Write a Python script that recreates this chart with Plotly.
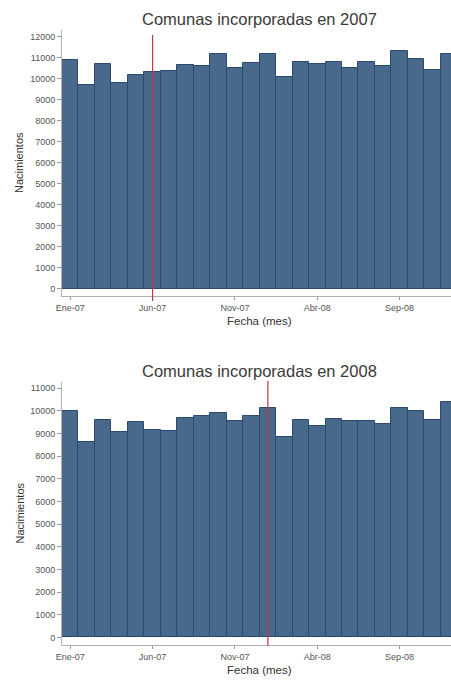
import plotly.graph_objects as go

# Monthly births, Jan 2007 - Dec 2008
meses = ["Ene-07", "Feb-07", "Mar-07", "Abr-07", "May-07", "Jun-07",
         "Jul-07", "Ago-07", "Sep-07", "Oct-07", "Nov-07", "Dic-07",
         "Ene-08", "Feb-08", "Mar-08", "Abr-08", "May-08", "Jun-08",
         "Jul-08", "Ago-08", "Sep-08", "Oct-08", "Nov-08", "Dic-08"]

nac_2007 = [10890, 9730, 10730, 9820, 10200, 10330, 10390, 10680, 10620, 11200,
            10530, 10740, 11190, 10080, 10800, 10730, 10820, 10520, 10790, 10600,
            11340, 10960, 10430, 11200]

nac_2008 = [9980, 8620, 9590, 9050, 9520, 9150, 9110, 9660, 9790, 9900,
            9560, 9780, 10140, 8840, 9590, 9350, 9620, 9560, 9570, 9430,
            10140, 9970, 9590, 10380]

titulos = ["Comunas incorporadas en 2007", "Comunas incorporadas en 2008"]
corte = ["Jun-07", "Ene-08"]
etiquetas_x = ["Ene-07", "Jun-07", "Nov-07", "Abr-08", "Sep-08"]

W, H = 451, 684
LEFT = 62
FONT = "Arial, Liberation Sans, sans-serif"

# panel extents in pixels (top, bottom) and y-axis ranges
panels = [
    dict(top=30, bottom=296, yr=[-345, 12330], ymax=12000, line=(35, 301)),
    dict(top=382, bottom=645, yr=[-335, 11270], ymax=11000, line=(381, 646)),
]

x = list(range(len(meses)))
fig = go.Figure()

for i, (vals, p) in enumerate(zip([nac_2007, nac_2008], panels)):
    xa = "x" if i == 0 else "x2"
    ya = "y" if i == 0 else "y2"
    fig.add_trace(go.Bar(
        x=x, y=vals, xaxis=xa, yaxis=ya, width=1,
        marker=dict(color="#48698c", line=dict(color="#2a4a70", width=1)),
        showlegend=False, hoverinfo="x+y",
    ))
    dom = [1 - p["bottom"] / H, 1 - p["top"] / H]
    axkey = "xaxis" if i == 0 else "xaxis2"
    aykey = "yaxis" if i == 0 else "yaxis2"
    fig.layout[axkey] = dict(
        domain=[0, 1], anchor=ya, range=[-0.5, 23.12],
        tickmode="array", tickvals=[meses.index(t) for t in etiquetas_x],
        ticktext=etiquetas_x, ticks="outside", ticklen=3, tickcolor="#999999",
        showline=True, linecolor="#b0b0b0", linewidth=1,
        showgrid=False, zeroline=False, automargin=False,
        tickfont=dict(family=FONT, size=9, color="#555555"),
    )
    fig.layout[aykey] = dict(
        domain=dom, anchor=xa, range=p["yr"],
        tickmode="array", tickvals=list(range(0, p["ymax"] + 1, 1000)),
        tickformat="d",
        ticks="outside", ticklen=4, tickcolor="#999999",
        showline=True, linecolor="#b0b0b0", linewidth=1,
        showgrid=False, zeroline=False, automargin=False,
        tickfont=dict(family=FONT, size=9, color="#555555"),
    )
    # vertical marker line
    fig.add_shape(type="line", xref=xa, yref="paper",
                  x0=meses.index(corte[i]), x1=meses.index(corte[i]),
                  y0=1 - p["line"][1] / H, y1=1 - p["line"][0] / H,
                  line=dict(color="#cc3344", width=1.2), layer="above")
    # panel title
    fig.add_annotation(text=titulos[i], xref="paper", yref="paper",
                       x=(259 - LEFT) / (W - LEFT), y=1 - (19 if i == 0 else 371) / H,
                       showarrow=False, xanchor="center", yanchor="middle",
                       font=dict(family=FONT, size=16.5, color="#3a3a3a"))
    # axis titles
    fig.add_annotation(text="Fecha (mes)", xref="paper", yref="paper",
                       x=(259.5 - LEFT) / (W - LEFT), y=1 - (321 if i == 0 else 670) / H,
                       showarrow=False, xanchor="center", yanchor="middle",
                       font=dict(family=FONT, size=11.5, color="#333333"))
    fig.add_annotation(text="Nacimientos", xref="paper", yref="paper", textangle=-90,
                       x=(19 - LEFT) / (W - LEFT), y=1 - ((p["top"] + p["bottom"]) / 2) / H,
                       showarrow=False, xanchor="center", yanchor="middle",
                       font=dict(family=FONT, size=11, color="#333333"))

fig.update_layout(
    template="none",
    width=W, height=H,
    margin=dict(l=LEFT, r=0, t=0, b=0),
    paper_bgcolor="white", plot_bgcolor="white",
    bargap=0, showlegend=False,
)

fig.write_html("out.html")
